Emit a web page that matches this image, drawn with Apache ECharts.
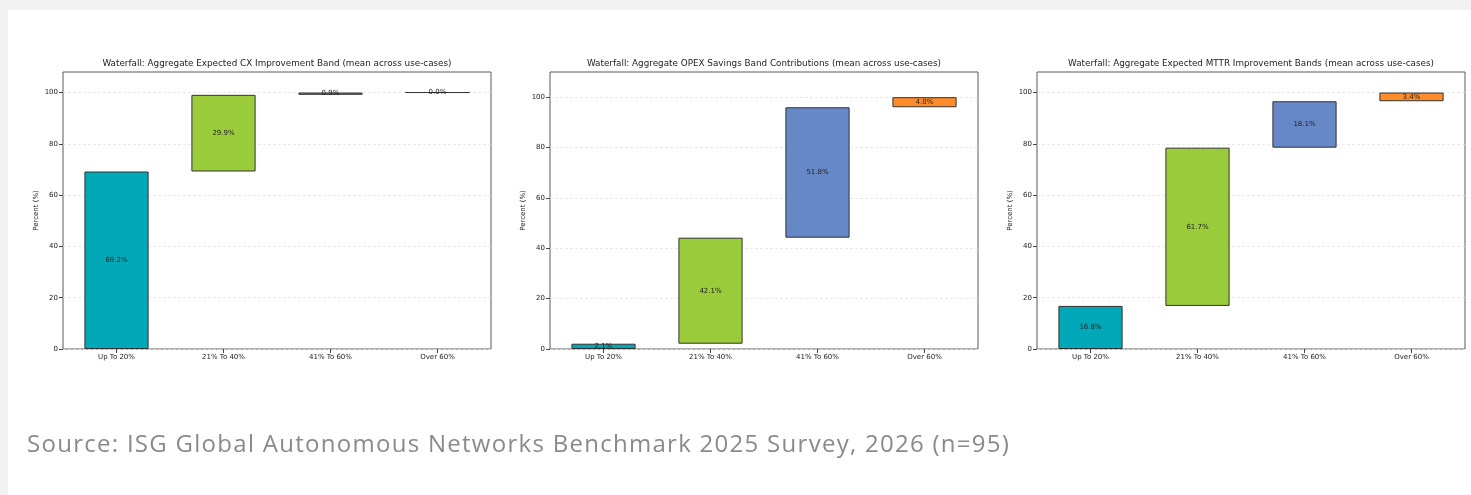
<!DOCTYPE html>
<html>
<head>
<meta charset="utf-8">
<script src="https://cdn.jsdelivr.net/npm/echarts@6/dist/echarts.min.js"></script>
<style>
  html, body { margin: 0; padding: 0; background: #f2f2f2; }
  #card { position: absolute; left: 8px; top: 10px; width: 1463px; height: 485px; background: #ffffff; }
  #chart { position: absolute; left: 0; top: 0; width: 1471px; height: 495px; }
  #source {
    position: absolute; left: 27px; top: 426px;
    font-family: 'Open Sans', sans-serif; font-size: 24px; line-height: 34px;
    letter-spacing: 1.28px; color: #8a8a8a; white-space: nowrap;
  }
</style>
</head>
<body>
<div id="card"></div>
<div id="chart"></div>
<div id="source"></div>
<script>
// Improvement bands (x-axis categories)
const categories = ['Up To 20%', '21% To 40%', '41% To 60%', 'Over 60%'];

// Mean share of responses per band (%)
const cxValues = [69.2, 29.9, 0.9, 0.0];
const opexValues = [2.1, 42.1, 51.8, 4.0];
const mttrValues = [16.8, 61.7, 18.1, 3.4];

const chartTitles = [
  'Waterfall: Aggregate Expected CX Improvement Band (mean across use-cases)',
  'Waterfall: Aggregate OPEX Savings Band Contributions (mean across use-cases)',
  'Waterfall: Aggregate Expected MTTR Improvement Bands (mean across use-cases)'
];
const yMaxes = [108, 110, 108];
const yTickValues = [0, 20, 40, 60, 80, 100];
const bandColors = ['#00a8b8', '#9acb3b', '#6688c6', '#ff8c28'];
const sourceText = 'Source: ISG Global Autonomous Networks Benchmark 2025 Survey, 2026 (n=95)';

const panels = [cxValues, opexValues, mttrValues];
const gridLefts = [63, 550, 1037];
const plotWidth = 428, plotTop = 72, plotHeight = 277;
const FONT = 'DejaVu Sans';
const textColor = '#222';

document.getElementById('source').textContent = sourceText;

// running base under each step of the waterfall
function baseOf(values) {
  const out = [];
  let acc = 0;
  values.forEach(v => { out.push(acc); acc += v; });
  return out;
}

const option = {
  animation: false,
  backgroundColor: 'transparent',
  title: [],
  grid: [],
  xAxis: [],
  yAxis: [],
  series: []
};

panels.forEach((values, i) => {
  const left = gridLefts[i];
  option.title.push({
    text: chartTitles[i],
    left: left + plotWidth / 2 - 5,
    top: 54,
    textAlign: 'center',
    textStyle: { fontFamily: FONT, fontSize: 8.8, fontWeight: 'normal', color: textColor }
  });
  option.grid.push({
    left: left, top: plotTop, width: plotWidth, height: plotHeight,
    show: true, borderColor: '#5a5a5a', borderWidth: 1, backgroundColor: 'transparent'
  });
  option.xAxis.push({
    type: 'category', gridIndex: i, data: categories, boundaryGap: true,
    axisLine: { show: false },
    axisTick: { show: true, alignWithLabel: true, length: 4, lineStyle: { color: '#444' } },
    axisLabel: { fontFamily: FONT, fontSize: 7, color: textColor, margin: 5 },
    splitLine: { show: false }
  });
  option.yAxis.push({
    type: 'value', gridIndex: i, min: 0, max: yMaxes[i], interval: 20,
    name: 'Percent (%)', nameLocation: 'middle', nameGap: 23, nameRotate: 90,
    nameTextStyle: { fontFamily: FONT, fontSize: 7, color: textColor },
    axisLine: { show: false },
    axisTick: { show: true, length: 4, lineStyle: { color: '#444' }, customValues: yTickValues },
    axisLabel: { fontFamily: FONT, fontSize: 7, color: textColor, margin: 5, customValues: yTickValues },
    splitLine: { show: true, lineStyle: { color: '#e4e4e4', type: [3, 2], width: 0.8 } }
  });
  option.series.push({
    type: 'bar', xAxisIndex: i, yAxisIndex: i, stack: 'wf' + i,
    data: baseOf(values), barWidth: '60%', silent: true,
    itemStyle: { color: 'transparent', borderWidth: 0 }
  });
  option.series.push({
    type: 'bar', xAxisIndex: i, yAxisIndex: i, stack: 'wf' + i,
    barWidth: '60%',
    data: values.map((v, k) => ({
      value: v,
      itemStyle: { color: bandColors[k], borderColor: '#333', borderWidth: 1 }
    })),
    label: {
      show: true, position: 'inside',
      formatter: p => p.value.toFixed(1) + '%',
      fontFamily: FONT, fontSize: 7, color: textColor
    }
  });
});

const chart = echarts.init(document.getElementById('chart'), null, { renderer: 'canvas' });
chart.setOption(option);
</script>
</body>
</html>
